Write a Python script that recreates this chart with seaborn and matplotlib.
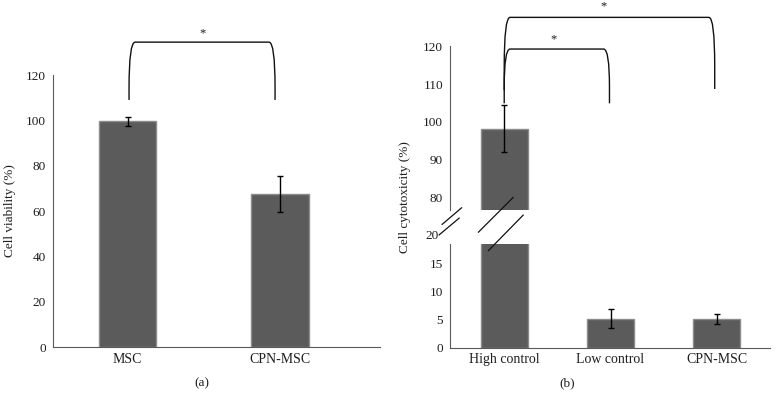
import numpy as np
import pandas as pd
import matplotlib as mpl
import matplotlib.pyplot as plt
from matplotlib.path import Path
from matplotlib.patches import PathPatch
import seaborn as sns

sns.set_style('white')
mpl.rcParams.update({'font.family': ['Liberation Serif', 'DejaVu Serif'], 'font.size': 9})

# panel (a)
cats_a = ['MSC', 'CPN-MSC']
viab = [99.5, 67.5]
viab_err = [1.8, 8.0]

# panel (b)
cats_b = ['High control', 'Low control', 'CPN-MSC']
cyto = [98.2, 5.2, 5.15]
cyto_err = [6.3, 1.7, 0.9]

bar_col = '#5b5b5b'
edge_col = '#8c8c8c'
ax_col = '#5a5a5a'
txt_col = '#1e1e1e'

W, H = 779, 399
fig = plt.figure(figsize=(W / 100, H / 100), dpi=100)


def px_axes(l, r, top, bot):
    return fig.add_axes([l / W, 1 - bot / H, (r - l) / W, (bot - top) / H])


def style(ax, show_bottom=True):
    for s in ['top', 'right']:
        ax.spines[s].set_visible(False)
    ax.spines['left'].set_color(ax_col)
    ax.spines['bottom'].set_color(ax_col)
    ax.spines['bottom'].set_visible(show_bottom)
    ax.tick_params(length=0, colors=txt_col)
    ax.tick_params(axis='y', labelsize=9.5, pad=5)
    ax.tick_params(axis='x', labelsize=10, pad=4)
    ax.set_xlabel('')
    ax.set_ylabel('')


def bracket(ax, x0, x1, y0, y1, ytop, rx, ry):
    verts = [(x0, y0), (x0, ytop - ry), (x0, ytop), (x0 + rx, ytop),
             (x1 - rx, ytop), (x1, ytop), (x1, ytop - ry), (x1, y1)]
    codes = [Path.MOVETO, Path.LINETO, Path.CURVE3, Path.CURVE3,
             Path.LINETO, Path.CURVE3, Path.CURVE3, Path.LINETO]
    ax.add_patch(PathPatch(Path(verts, codes), fill=False, lw=1.0,
                           edgecolor='#111111', clip_on=False))


# ---- (a)
ax = px_axes(53, 380, 75, 347)
df_a = pd.DataFrame({'group': cats_a, 'val': viab})
sns.barplot(data=df_a, x='group', y='val', color=bar_col, width=0.38,
            edgecolor=edge_col, linewidth=1, saturation=1, ax=ax)
ax.errorbar(np.arange(len(cats_a)), viab, yerr=viab_err, fmt='none',
            ecolor='k', elinewidth=1, capsize=2.5, capthick=1)
ax.set_ylim(0, 120)
ax.set_xlim(-0.49, 1.66)
ax.set_yticks(range(0, 121, 20))
style(ax)
ax.set_ylabel('Cell viability (%)', fontsize=9.5, color=txt_col, labelpad=7)
bracket(ax, 0.01, 0.97, 109, 109, 134.5, 0.04, 20)
ax.text(0.49, 138.5, '*', ha='center', va='center', fontsize=9, color=txt_col)

# ---- (b)
df_b = pd.DataFrame({'group': cats_b, 'val': cyto})
up = px_axes(450, 770, 46.4, 210)
lo = px_axes(450, 770, 243.5, 347.7)
for a in (up, lo):
    sns.barplot(data=df_b, x='group', y='val', color=bar_col, width=0.44,
                edgecolor=edge_col, linewidth=1, saturation=1, ax=a)
    a.errorbar(np.arange(len(cats_b)), cyto, yerr=cyto_err, fmt='none',
               ecolor='k', elinewidth=1, capsize=2.5, capthick=1)
    a.set_xlim(-0.51, 2.5)

up.set_ylim(76.6, 120)
up.set_yticks(range(80, 121, 10))
style(up, show_bottom=False)
up.set_xticks([])

lo.set_ylim(0, 18.6)
lo.set_yticks([0, 5, 10, 15])
style(lo)
lo.text(-0.035, 20, '20', transform=lo.get_yaxis_transform(), ha='right',
        va='center', fontsize=9.5, color=txt_col)

fig.text(405 / W, 1 - 197 / H, 'Cell cytotoxicity (%)', rotation=90,
         ha='center', va='center', fontsize=9.5, color=txt_col)

bracket(up, 0.0, 1.98, 108.4, 108.7, 127.7, 0.055, 13)
bracket(up, 0.0, 0.99, 104.9, 104.9, 119.3, 0.055, 10)
up.text(0.93, 130.5, '*', ha='center', va='center', fontsize=9, color=txt_col)
up.text(0.46, 122, '*', ha='center', va='center', fontsize=9, color=txt_col)

# axis break marks
for (x0, y0), (x1, y1) in [((442, 224.5), (461.7, 207.7)),
                           ((439, 235), (459.3, 218)),
                           ((478.3, 232.3), (513.3, 197.3)),
                           ((488.3, 250.7), (523.3, 215))]:
    fig.add_artist(mpl.lines.Line2D([x0 / W, x1 / W], [1 - y0 / H, 1 - y1 / H],
                                    transform=fig.transFigure, color='#111111', lw=0.9))

fig.text(202 / W, 1 - 383 / H, '(a)', ha='center', va='center', fontsize=9.5, color=txt_col)
fig.text(567 / W, 1 - 383 / H, '(b)', ha='center', va='center', fontsize=9.5, color=txt_col)

fig.savefig('out.png', dpi=100)
